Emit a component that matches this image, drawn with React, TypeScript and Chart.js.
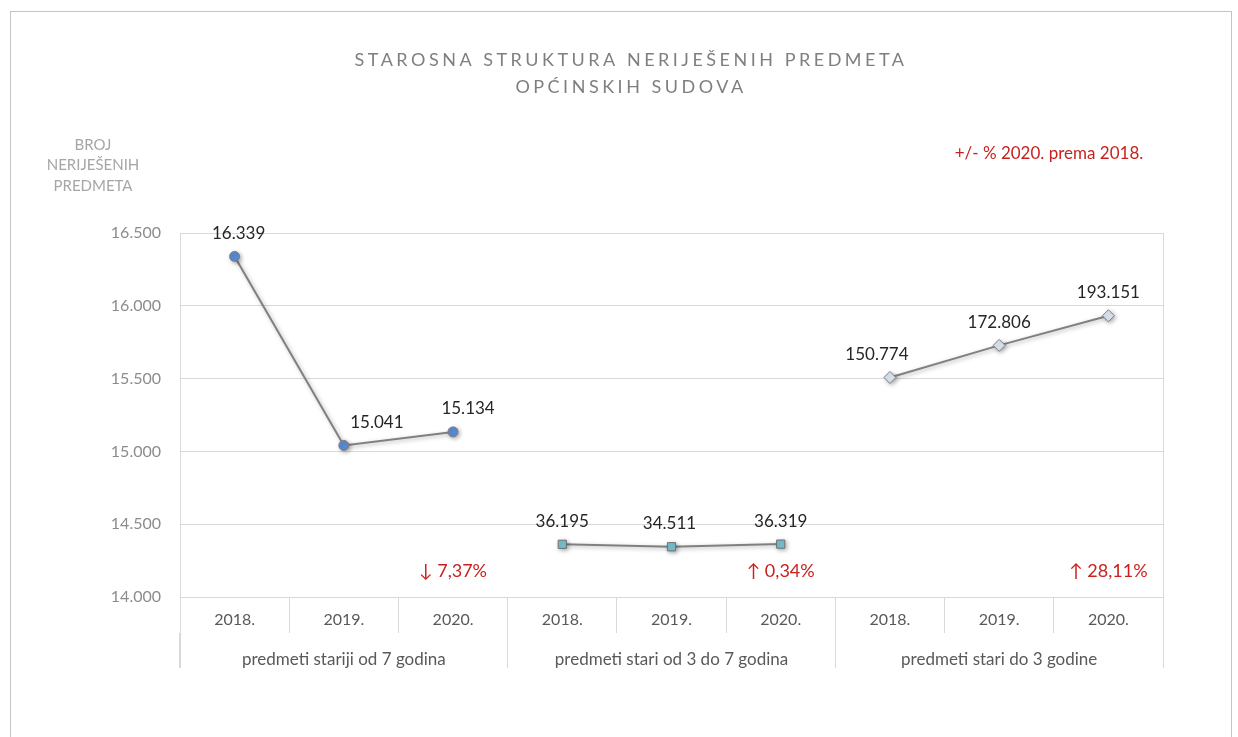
import React, { useEffect, useRef } from "react";
import { Chart, registerables } from "chart.js";
Chart.register(...registerables);

const years = ["2018.", "2019.", "2020.", "2018.", "2019.", "2020.", "2018.", "2019.", "2020."];
const groups = ["predmeti stariji od 7 godina", "predmeti stari od 3 do 7 godina", "predmeti stari do 3 godine"];
const olderThan7: (number | null)[] = [16339, 15041, 15134, null, null, null, null, null, null];
const from3to7: (number | null)[] = [null, null, null, 36195, 34511, 36319, null, null, null];
const upTo3: (number | null)[] = [null, null, null, null, null, null, 150774, 172806, 193151];
const changeLabels = ["\u2193 7,37%", "\u2191 0,34%", "\u2191 28,11%"];
const changeAt = [2, 5, 8];
const titleLines = ["STAROSNA STRUKTURA NERIJEŠENIH PREDMETA", "OPĆINSKIH SUDOVA"];
const yTitleLines = ["BROJ", "NERIJEŠENIH", "PREDMETA"];
const noteText = "+/- % 2020. prema 2018.";

// label horizontal shifts (px) relative to each point, per dataset
const labelShift = [
  [4, 33, 15, 0, 0, 0, 0, 0, 0],
  [0, 0, 0, 0, -2, 0, 0, 0, 0],
  [0, 0, 0, 0, 0, 0, -13, 0, 0],
];

const FONT = "Lato, 'Open Sans', sans-serif";
const RED = "#c9211e";

const fmt = (v: number) => Math.round(v).toString().replace(/\B(?=(\d{3})+(?!\d))/g, ".");

export default function App() {
  const ref = useRef<HTMLCanvasElement | null>(null);
  useEffect(() => {
    if (!ref.current) return;
    const decor = {
      id: "decor",
      beforeDraw(chart: any) {
        const ctx = chart.ctx;
        ctx.save();
        ctx.fillStyle = "#ffffff";
        ctx.fillRect(0, 0, chart.width, chart.height);
        ctx.strokeStyle = "#c4c4c4";
        ctx.lineWidth = 1;
        ctx.strokeRect(10.5, 11.5, 1221, 800);
        ctx.restore();
      },
      afterDraw(chart: any) {
        const ctx = chart.ctx;
        const a = chart.chartArea;
        const bottom = chart.scales.x2.bottom;
        ctx.save();
        ctx.strokeStyle = "#d9d9d9";
        ctx.lineWidth = 1;
        ctx.beginPath();
        ctx.moveTo(Math.round(a.left) + 0.5, a.top);
        ctx.lineTo(Math.round(a.left) + 0.5, bottom);
        ctx.moveTo(Math.round(a.right) + 0.5, a.top);
        ctx.lineTo(Math.round(a.right) + 0.5, bottom);
        ctx.stroke();
        ctx.restore();

        ctx.save();
        // title
        ctx.fillStyle = "#7f7f7f";
        ctx.font = `18px ${FONT}`;
        ctx.textAlign = "center";
        ctx.textBaseline = "middle";
        (ctx as any).letterSpacing = "3.5px";
        titleLines.forEach((t, i) => ctx.fillText(t, 631, 60 + i * 27));
        (ctx as any).letterSpacing = "0px";
        // y title
        ctx.fillStyle = "#a6a6a6";
        ctx.font = `15px ${FONT}`;
        yTitleLines.forEach((t, i) => ctx.fillText(t, 93, 145 + i * 20.5));
        // note
        ctx.fillStyle = RED;
        ctx.font = `17px ${FONT}`;
        ctx.fillText(noteText, 1049, 154);
        // change labels
        ctx.font = `18px ${FONT}`;
        const xs = chart.scales.x;
        changeLabels.forEach((t, i) => {
          ctx.fillText(t, xs.getPixelForValue(changeAt[i]), a.bottom - 26);
        });
        // data labels
        ctx.fillStyle = "#262626";
        ctx.font = `17px ${FONT}`;
        chart.data.datasets.forEach((ds: any, d: number) => {
          const meta = chart.getDatasetMeta(d);
          ds.data.forEach((v: number | null, i: number) => {
            if (v == null) return;
            const el = meta.data[i];
            ctx.fillText(fmt(v), el.x + labelShift[d][i], el.y - 23);
          });
        });
        ctx.restore();
      },
      beforeDatasetsDraw(chart: any) {
        const ctx = chart.ctx;
        ctx.save();
        ctx.shadowColor = "rgba(0,0,0,0.3)";
        ctx.shadowBlur = 4;
        ctx.shadowOffsetX = 1.5;
        ctx.shadowOffsetY = 1.5;
      },
      afterDatasetsDraw(chart: any) {
        chart.ctx.restore();
      },
    };

    const chart = new Chart(ref.current, {
      type: "line",
      data: {
        labels: years,
        datasets: [
          {
            data: olderThan7,
            yAxisID: "y",
            borderColor: "#808080",
            borderWidth: 2,
            pointStyle: "circle",
            pointRadius: 5,
            pointBackgroundColor: "#5b8bd4",
            pointBorderColor: "#7f7f7f",
            pointBorderWidth: 1,
            spanGaps: false,
          },
          {
            data: from3to7,
            yAxisID: "y2",
            borderColor: "#808080",
            borderWidth: 2,
            pointStyle: "rect",
            pointRadius: 5.8,
            pointBackgroundColor: "#79c3d6",
            pointBorderColor: "#6f6f6f",
            pointBorderWidth: 1,
            spanGaps: false,
          },
          {
            data: upTo3,
            yAxisID: "y2",
            borderColor: "#808080",
            borderWidth: 2,
            pointStyle: "rectRot",
            pointRadius: 6,
            pointBackgroundColor: "#dce6f2",
            pointBorderColor: "#7f7f7f",
            pointBorderWidth: 1,
            spanGaps: false,
          },
        ] as any,
      },
      options: {
        responsive: false,
        animation: false,
        events: [],
        layout: { padding: { left: 0, right: 75, top: 233, bottom: 69 } },
        plugins: { legend: { display: false }, tooltip: { enabled: false }, title: { display: false } },
        scales: {
          x: {
            type: "category",
            labels: years,
            position: "bottom",
            offset: true,
            weight: 0,
            grid: { offset: true, drawOnChartArea: false, drawTicks: true, tickLength: 36, color: "#d9d9d9" },
            border: { display: true, color: "#d9d9d9" },
            ticks: { color: "#595959", font: { family: FONT, size: 16 }, padding: -23, maxRotation: 0, autoSkip: false },
            afterFit: (s: any) => { s.height = 36; },
          },
          x2: {
            type: "category",
            labels: groups,
            position: "bottom",
            offset: true,
            weight: 1,
            grid: { offset: true, drawOnChartArea: false, drawTicks: true, tickLength: 35, color: "#d9d9d9" },
            border: { display: false },
            ticks: { color: "#595959", font: { family: FONT, size: 17 }, padding: -19, maxRotation: 0, autoSkip: false },
            afterFit: (s: any) => { s.height = 35; },
          },
          y: {
            type: "linear",
            position: "left",
            min: 14000,
            max: 16500,
            ticks: { stepSize: 500, color: "#8c8c8c", font: { family: FONT, size: 16 }, padding: 19, callback: (v: any) => fmt(Number(v)) },
            grid: { color: "#d9d9d9", drawTicks: false },
            border: { display: false },
            afterFit: (s: any) => { s.width = 180; },
          },
          y2: {
            type: "linear",
            display: false,
            min: 0,
            max: 250000,
          },
        } as any,
      },
      plugins: [decor],
    });
    return () => chart.destroy();
  }, []);

  return (
    <div style={{ position: "fixed", left: 0, top: 0, width: 1238, height: 737 }}>
      <canvas ref={ref} width={1238} height={737} style={{ display: "block" }} />
    </div>
  );
}
